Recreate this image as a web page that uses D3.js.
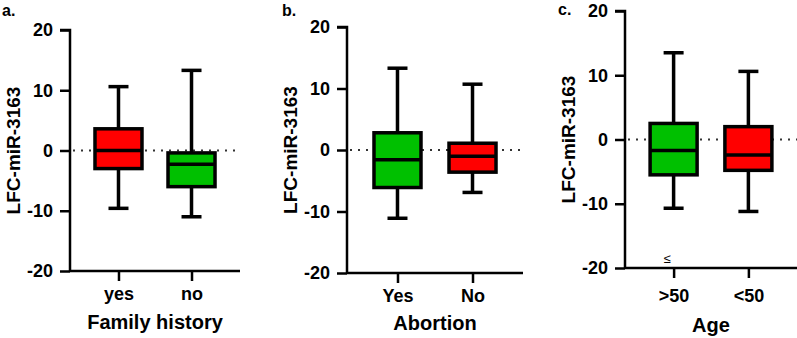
<!DOCTYPE html>
<html><head><meta charset="utf-8">
<script src="https://cdn.jsdelivr.net/npm/d3@7"></script>
<style>body{margin:0;background:#fff}svg{display:block}text{font-family:"Liberation Sans",Arial,sans-serif;font-weight:bold;fill:#000}</style>
</head><body>
<svg id="c" width="797" height="338"></svg>
<script>
// ---- data ----
const panelLetters = ["a.", "b.", "c."];
const xTitles = ["Family history", "Abortion", "Age"];
const yTitle = "LFC-miR-3163";
const yTicks = [-20, -10, 0, 10, 20];
const catsA = ["yes", "no"];
const catsB = ["Yes", "No"];
const catsC = [">50", "<50"];
// [min, q1, median, q3, max]
const statsA = [[-9.6, -3.0, 0.0, 3.6, 10.6], [-11.0, -6.0, -2.3, -0.4, 13.3]];
const statsB = [[-11.1, -6.1, -1.6, 2.8, 13.3], [-6.9, -3.6, -1.0, 1.1, 10.7]];
const statsC = [[-10.7, -5.5, -1.7, 2.5, 13.5], [-11.2, -4.8, -2.4, 2.0, 10.6]];
const colorsA = ["#ff0000", "#00c000"];
const colorsB = ["#00c000", "#ff0000"];
const colorsC = ["#00c000", "#ff0000"];

const svg = d3.select("#c");

const layouts = [
  {x0: 70, x1: 240, yT: 30, yB: 271, pad: 0.664, letterX: 2, letterY: 16, titleX: 20, tickBase: 300, xTitleY: 329},
  {x0: 347, x1: 523, yT: 27, yB: 273, pad: 0.673, letterX: 282, letterY: 16, titleX: 297, tickBase: 302, xTitleY: 330},
  {x0: 625, x1: 797, yT: 11, yB: 268, pad: 0.65, letterX: 558, letterY: 15, titleX: 575, tickBase: 302, xTitleY: 332}
];
const panels = [
  {cats: catsA, stats: statsA, colors: colorsA},
  {cats: catsB, stats: statsB, colors: colorsB},
  {cats: catsC, stats: statsC, colors: colorsC}
];

panels.forEach((p, i) => {
  const L = layouts[i];
  const y = d3.scaleLinear().domain([-20, 20]).range([L.yB, L.yT]);
  const x = d3.scalePoint().domain(p.cats).range([L.x0, L.x1]).padding(L.pad);
  const g = svg.append("g");

  // zero dotted line
  g.append("line").attr("x1", L.x0 + 3).attr("x2", L.x1).attr("y1", y(0)).attr("y2", y(0))
    .attr("stroke", "#333").attr("stroke-width", 2).attr("stroke-dasharray", "2,6");

  // y axis
  const ya = g.append("g").attr("transform", `translate(${L.x0},0)`)
    .call(d3.axisLeft(y).tickValues(yTicks).tickSize(10).tickPadding(7).tickFormat(d => String(d)));
  ya.select(".domain").attr("stroke", "#000").attr("stroke-width", 2.5).attr("d", `M-10,${L.yT}H0V${L.yB}`);
  ya.selectAll(".tick line").attr("stroke", "#000").attr("stroke-width", 2.5);
  ya.selectAll(".tick text").style("font-size", "18px").style("font-family", "Liberation Sans, Arial, sans-serif").style("font-weight", "bold").attr("fill", "#000");

  // x axis
  const xa = g.append("g").attr("transform", `translate(0,${L.yB})`)
    .call(d3.axisBottom(x).tickSize(10).tickPadding(10));
  xa.select(".domain").attr("stroke", "#000").attr("stroke-width", 2.5).attr("d", `M${L.x0},0H${L.x1}`);
  xa.selectAll(".tick line").attr("stroke", "#000").attr("stroke-width", 2.5);
  xa.selectAll(".tick text").style("font-size", "18px").style("font-family", "Liberation Sans, Arial, sans-serif").style("font-weight", "bold").attr("fill", "#000")
    .attr("dy", null).attr("y", L.tickBase - L.yB);

  // boxes
  const bw = 47, cw = 20;
  p.cats.forEach((c, j) => {
    const s = p.stats[j];
    const cx = x(c);
    const bg = g.append("g");
    bg.append("line").attr("x1", cx).attr("x2", cx).attr("y1", y(s[0])).attr("y2", y(s[4]))
      .attr("stroke", "#000").attr("stroke-width", 3.5);
    [s[0], s[4]].forEach(v => bg.append("line").attr("x1", cx - cw / 2).attr("x2", cx + cw / 2)
      .attr("y1", y(v)).attr("y2", y(v)).attr("stroke", "#000").attr("stroke-width", 3.5));
    bg.append("rect").attr("x", cx - bw / 2).attr("width", bw).attr("y", y(s[3])).attr("height", y(s[1]) - y(s[3]))
      .attr("fill", p.colors[j]).attr("stroke", "#000").attr("stroke-width", 3.5);
    bg.append("line").attr("x1", cx - bw / 2).attr("x2", cx + bw / 2).attr("y1", y(s[2])).attr("y2", y(s[2]))
      .attr("stroke", "#000").attr("stroke-width", 3.5);
  });

  // texts
  svg.append("text").attr("x", L.letterX).attr("y", L.letterY).style("font-size", "16px").text(panelLetters[i]);
  svg.append("text").attr("transform", `translate(${L.titleX},${y(0)}) rotate(-90)`).attr("text-anchor", "middle")
    .style("font-size", "19px").text(yTitle);
  svg.append("text").attr("x", (L.x0 + L.x1) / 2).attr("y", L.xTitleY).attr("text-anchor", "middle")
    .style("font-size", "20px").text(xTitles[i]);
});

svg.append("text").attr("x", 667).attr("y", 263).attr("text-anchor", "middle")
  .style("font-size", "13px").style("font-weight", "normal").text("≤");
</script>
</body></html>
